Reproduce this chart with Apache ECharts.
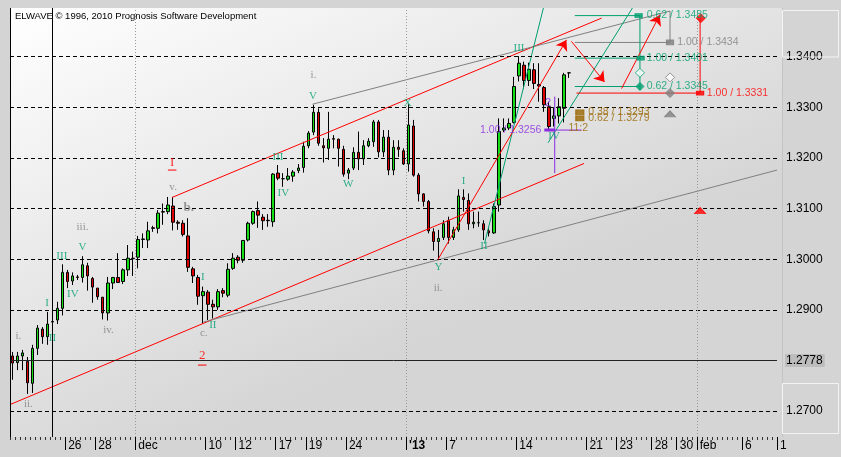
<!DOCTYPE html>
<html><head><meta charset="utf-8">
<script src="https://cdn.jsdelivr.net/npm/echarts@6.0.0/dist/echarts.min.js"></script>
<style>
html,body{margin:0;padding:0;background:#d4d4d4;overflow:hidden}
#chart{width:841px;height:457px}
</style></head><body><div id="chart"></div>
<script>
// ---------- DATA ----------
const NCAT = 153;               // candle slots on the time axis (8h bars)
const Y_MIN = 1.2649, Y_MAX = 1.3496;
const yTicks = [1.27, 1.28, 1.29, 1.30, 1.31, 1.32, 1.33, 1.34];
const lastPrice = 1.2778;
const dateLabels = {11:'26',17:'28',25:'dec',39:'10',45:'12',53:'17',59:'19',67:'24',79:"'13",
  87:'7',101:'14',115:'21',121:'23',128:'28',133:'30',137:'feb',146:'6',153:'1'};
// [open, close, low, high]
const ohlc = [
[1.2809,1.2795,1.2762,1.2817],[1.2796,1.2809,1.2781,1.2817],[1.2809,1.2815,1.2781,1.2821],[1.2798,1.2756,1.2734,1.2807],[1.2755,1.2824,1.2736,1.2831],
[1.2824,1.2864,1.2811,1.2870],[1.2862,1.2847,1.2833,1.2866],[1.2847,1.2872,1.2831,1.2896],[1.2876,1.2877,1.2858,1.2886],[1.2880,1.2903,1.2872,1.2916],
[1.2903,1.2974,1.2889,1.2990],[1.2974,1.2956,1.2943,1.2979],[1.2957,1.2967,1.2949,1.2974],[1.2965,1.2964,1.2959,1.2969],[1.2964,1.2989,1.2954,1.3006],
[1.2987,1.2967,1.2938,1.2993],[1.2962,1.2945,1.2914,1.2965],[1.2943,1.2926,1.2920,1.2943],[1.2925,1.2894,1.2881,1.2925],[1.2894,1.2953,1.2879,1.2965],
[1.2953,1.2964,1.2941,1.2965],[1.2964,1.2954,1.2953,1.3012],[1.2956,1.2979,1.2951,1.2982],[1.2979,1.3002,1.2967,1.3028],[1.3001,1.3002,1.2967,1.3015],
[1.3004,1.3039,1.2982,1.3046],[1.3039,1.3040,1.3022,1.3051],[1.3038,1.3056,1.3022,1.3074],[1.3062,1.3061,1.3054,1.3066],[1.3061,1.3091,1.3051,1.3097],
[1.3094,1.3093,1.3068,1.3110],[1.3094,1.3107,1.3089,1.3123],[1.3105,1.3073,1.3057,1.3123],[1.3073,1.3071,1.3058,1.3077],[1.3071,1.3049,1.3045,1.3077],
[1.3046,1.2984,1.2975,1.3081],[1.2981,1.2967,1.2953,1.2985],[1.2964,1.2927,1.2910,1.2969],[1.2928,1.2936,1.2873,1.2946],[1.2935,1.2911,1.2880,1.2939],
[1.2911,1.2906,1.2883,1.2920],[1.2906,1.2936,1.2900,1.2941],[1.2938,1.2933,1.2925,1.2943],[1.2929,1.2980,1.2925,1.2992],[1.2982,1.3002,1.2979,1.3012],
[1.3004,1.2998,1.2992,1.3008],[1.2998,1.3037,1.2993,1.3038],[1.3038,1.3071,1.3035,1.3074],[1.3071,1.3094,1.3068,1.3096],[1.3096,1.3087,1.3062,1.3114],
[1.3083,1.3076,1.3058,1.3089],[1.3077,1.3076,1.3064,1.3089],[1.3074,1.3168,1.3064,1.3170],[1.3170,1.3160,1.3156,1.3186],[1.3159,1.3159,1.3143,1.3170],
[1.3158,1.3164,1.3155,1.3180],[1.3164,1.3172,1.3153,1.3176],[1.3175,1.3180,1.3170,1.3188],[1.3181,1.3223,1.3171,1.3232],[1.3224,1.3249,1.3219,1.3253],
[1.3251,1.3290,1.3245,1.3305],[1.3290,1.3229,1.3224,1.3298],[1.3224,1.3220,1.3191,1.3239],[1.3219,1.3237,1.3196,1.3291],[1.3238,1.3237,1.3219,1.3245],
[1.3237,1.3219,1.3183,1.3238],[1.3217,1.3168,1.3163,1.3224],[1.3170,1.3176,1.3158,1.3180],[1.3180,1.3211,1.3176,1.3221],[1.3211,1.3198,1.3176,1.3252],
[1.3198,1.3224,1.3186,1.3235],[1.3224,1.3233,1.3221,1.3239],[1.3232,1.3271,1.3222,1.3275],[1.3271,1.3212,1.3201,1.3275],[1.3212,1.3241,1.3202,1.3255],
[1.3241,1.3176,1.3166,1.3255],[1.3176,1.3221,1.3166,1.3235],[1.3221,1.3217,1.3202,1.3235],[1.3214,1.3188,1.3186,1.3219],[1.3188,1.3265,1.3173,1.3306],
[1.3263,1.3166,1.3163,1.3275],[1.3166,1.3129,1.3114,1.3170],[1.3129,1.3114,1.3104,1.3130],[1.3114,1.3056,1.3051,1.3117],[1.3054,1.3035,1.3017,1.3061],
[1.3035,1.3041,1.3002,1.3058],[1.3043,1.3070,1.3038,1.3077],[1.3076,1.3043,1.3031,1.3084],[1.3043,1.3058,1.3038,1.3064],[1.3058,1.3125,1.3054,1.3138],
[1.3122,1.3118,1.3094,1.3138],[1.3116,1.3070,1.3058,1.3130],[1.3070,1.3073,1.3061,1.3094],[1.3072,1.3072,1.3064,1.3094],[1.3070,1.3058,1.3038,1.3077],
[1.3056,1.3052,1.3045,1.3064],[1.3052,1.3104,1.3050,1.3110],[1.3107,1.3252,1.3094,1.3278],[1.3255,1.3259,1.3251,1.3278],[1.3259,1.3268,1.3255,1.3278],
[1.3270,1.3341,1.3268,1.3360],[1.3362,1.3387,1.3351,1.3401],[1.3383,1.3353,1.3337,1.3390],[1.3353,1.3375,1.3342,1.3388],[1.3374,1.3347,1.3336,1.3387],
[1.3345,1.3342,1.3311,1.3387],[1.3339,1.3305,1.3291,1.3342],[1.3301,1.3262,1.3255,1.3311],[1.3278,1.3283,1.3262,1.3300],[1.3283,1.3301,1.3268,1.3318],
[1.3298,1.3364,1.3270,1.3368],[1.3368,1.3368,1.3358,1.3368]
];
// vertical markers (bar index units)
const cursorBar = 7.92;
const monthStarts = [24.5, 78.5, 136.5];
// channel / projection lines: [barIndex, price]
const redChannelLow  = [[-0.5,1.2713],[114.0,1.3189]];
const redChannelUp   = [[31.84,1.3122],[117.5,1.3476]];
const grayChannelLow = [[38.1,1.2876],[152.5,1.3176]];
const grayChannelUp  = [[59.84,1.3306],[131.16,1.3490],[131.16,1.3428],[112.16,1.3428]];
const greenFan1 = [[94.16,1.3031],[105.9,1.3496]];
const greenFan2 = [[106.84,1.3230],[123.66,1.3496]];
const greenTargetPrices = [1.3481, 1.3397, 1.3341];
const greenTargetSpan = [112.16, 125.16];
const greenStem = [[125.16,1.3481],[125.16,1.3334]];
const redTarget = [[112.5,1.3328],[137.16,1.3328]];
const redStem = [[137.16,1.3476],[137.16,1.3328]];
const purpleStem = [[108.16,1.3321],[108.16,1.3170]];
const purpleLevel = [[106.1,1.3255],[113.5,1.3255]];
const purpleBar = [[106.1,1.3255],[108.16,1.3255]];
const redUnder1 = [[31.0,1.3176],[32.7,1.3176]];
const redUnder2 = [[37.0,1.2791],[38.7,1.2791]];
const arrows = [
  [[84.84,1.2999],[110.5,1.3433]],
  [[111.5,1.3430],[118.1,1.3350]],
  [[121.5,1.3337],[129.1,1.3482]]
];
// markers
const greenSquares = [[124.9,1.3481],[125.3,1.3397]];
const greenDiamonds = [[125.16,1.3341]];
const greenHollowDiamonds = [[125.16,1.3368]];
const redDiamonds = [[137.3,1.3476]];
const redSquares = [[137.16,1.3328]];
const graySquares = [[131.16,1.3428]];
const grayHollowDiamonds = [[131.16,1.3359]];
const grayDiamonds = [[131.16,1.3328]];
const grayTriangles = [[131.16,1.3287]];
const redTriangles = [[137.16,1.3096]];
const brownSquares = [[113.16,1.3290],[113.16,1.3278]];
// wave labels: [text, barIndex, price]
const greenWaves = [
 ['I',6.9,1.2914],['II',7.96,1.2845],['III',9.84,1.3006],['IV',12.04,1.2931],['V',13.96,1.3023],
 ['I',37.96,1.2964],['II',39.96,1.2870],['III',52.96,1.3202],['IV',54.04,1.3131],['V',59.96,1.3322],
 ['W',66.96,1.3149],['X',78.84,1.3308],['Y',84.96,1.2985],['I',89.96,1.3155],['II',94.04,1.3025],
 ['III',101.04,1.3416],['IV',108.04,1.3243]
];
const grayWaves = [
 ['i.',1.16,1.2849],['ii.',3.16,1.2714],['iii.',13.96,1.3063],['iv.',19.16,1.2860],['v.',32.04,1.3143],
 ['c.',38.16,1.2854],['i.',60.04,1.3364],['ii.',84.9,1.2943]
];
const grayBold = [['b.',35.16,1.3102]];
const redWaves = [['I',31.84,1.3191],['2',37.84,1.2809]];
const purpleWaves = [['2',106.84,1.3309]];
// level texts (left anchored)
const greenTexts = [['0.62 / 1.3485',126.5,1.3481],['1.00 / 1.3401',126.5,1.3397],['0.62 / 1.3345',126.5,1.3341]];
const grayTexts = [['1.00 / 1.3434',132.6,1.3428]];
const redTexts = [['1.00 / 1.3331',138.5,1.3328]];
const brownTexts = [['0.38 / 1.3293',114.84,1.3290],['0.62 / 1.3279',114.84,1.3278],['11:2',110.9,1.3259]];
const purpleTexts = [['1.00 / 1.3256',105.5,1.3255]];

// ---------- CHART ----------
const SANS = '"Liberation Sans", Arial, sans-serif';
const SERIF = '"Liberation Serif", "DejaVu Serif", serif';
const GREEN = '#00a070', GRAY = '#808080', RED = '#ff0000', PURPLE = '#8a2be2', BROWN = '#9a6700';
const chart = echarts.init(document.getElementById('chart'));
const catData = Array.from({length: NCAT}, (_, i) => String(i));
const tickData = Array.from({length: NCAT + 1}, (_, k) => dateLabels[k] || '');

function seg(data, color, width, z) {
  return {type:'line', xAxisIndex:2, yAxisIndex:0, data, symbol:'none', silent:true,
    lineStyle:{color, width: width || 1}, z: z || 4};
}
function marks(data, symbol, size, fill, stroke) {
  return {type:'scatter', xAxisIndex:2, yAxisIndex:0, data, symbol, symbolSize:size, silent:true,
    itemStyle:{color:fill, borderColor:stroke || fill, borderWidth:1}, z:8};
}
function texts(items, color, font, size, pos, extra) {
  return {type:'scatter', xAxisIndex:2, yAxisIndex:0, silent:true, symbolSize:0, z:9,
    data: items.map(([t, x, y]) => ({name:t, value:[x, y]})),
    label: Object.assign({show:true, formatter:'{b}', color, fontFamily:font, fontSize:size,
      position: pos === 'c' ? 'inside' : [0, 0],
      align: pos === 'c' ? 'center' : pos, verticalAlign:'middle'}, extra || {})};
}

const series = [
  {type:'line', xAxisIndex:2, yAxisIndex:0, data:[], silent:true, z:1,
   markLine:{symbol:'none', silent:true, animation:false,
     data: [
       ...yTicks.map(v => ({yAxis:v, lineStyle:{color:'#000', type:[4,3], width:1}, label:{show:false}})),
       ...monthStarts.map(v => ({xAxis:v, lineStyle:{color:'#999', type:[1,2], width:1}, label:{show:false}})),
       {xAxis:cursorBar, lineStyle:{color:'#000', type:'solid', width:1}, label:{show:false}},
       {yAxis:lastPrice, lineStyle:{color:'#222', type:'solid', width:1},
        label:{show:true, position:'end', distance:8, formatter:'1.2778', color:'#000', fontFamily:SANS, fontSize:12,
               backgroundColor:'#bdbdbd', padding:[1,2,0,1]}}
     ]}},
  {type:'candlestick', xAxisIndex:0, yAxisIndex:0, data:ohlc, barWidth:3, z:3, silent:true,
   itemStyle:{color:'#16dd16', color0:'#dd0000', borderColor:'#000', borderColor0:'#000', borderWidth:1}},
  seg(redChannelLow, RED), seg(redChannelUp, RED),
  seg(grayChannelLow, GRAY), seg(grayChannelUp, GRAY),
  seg(greenFan1, GREEN), seg(greenFan2, GREEN),
  ...greenTargetPrices.map(p => seg([[greenTargetSpan[0], p],[greenTargetSpan[1], p]], GREEN)),
  seg(greenStem, GREEN), seg(redTarget, RED), seg(redStem, RED),
  seg(purpleStem, PURPLE), seg(purpleLevel, PURPLE), seg(purpleBar, PURPLE, 3),
  seg(redUnder1, RED), seg(redUnder2, RED),
  {type:'line', xAxisIndex:2, yAxisIndex:0, data:[], silent:true, z:6,
   markLine:{symbol:['none','arrow'], symbolSize:10, silent:true, animation:false,
     lineStyle:{color:RED, width:1, type:'solid'}, label:{show:false},
     data: arrows.map(([a, b]) => [{coord:a}, {coord:b}])}},
  marks(greenSquares, 'rect', [7,4], GREEN),
  marks(greenDiamonds, 'diamond', 8, GREEN),
  marks(greenHollowDiamonds, 'diamond', 9, '#fff', GREEN),
  marks(redDiamonds, 'diamond', 9, RED),
  marks(redSquares, 'rect', [7,4], RED),
  marks(graySquares, 'rect', [7,5], GRAY),
  marks(grayHollowDiamonds, 'diamond', 9, '#fff', GRAY),
  marks(grayDiamonds, 'diamond', 9, GRAY),
  marks(grayTriangles, 'triangle', [11,6], GRAY),
  marks(redTriangles, 'triangle', [11,6], RED),
  marks(brownSquares, 'rect', [8,5], BROWN),
  texts(greenWaves, GREEN, SERIF, 11, 'c'),
  texts(grayWaves, GRAY, SERIF, 11, 'c'),
  texts(grayBold, GRAY, SERIF, 13, 'c', {fontWeight:'bold'}),
  texts(redWaves, RED, SERIF, 13, 'c'),
  texts(purpleWaves, PURPLE, SANS, 11, 'c'),
  texts(greenTexts, GREEN, SANS, 10.5, 'left'),
  texts(grayTexts, GRAY, SANS, 10.5, 'left'),
  texts(redTexts, RED, SANS, 10.5, 'left'),
  texts(brownTexts, BROWN, SANS, 10.5, 'left'),
  texts(purpleTexts, PURPLE, SANS, 10.5, 'right')
];

const option = {
  animation:false,
  backgroundColor:'#d4d4d4',
  grid:{left:10, top:8, width:767, height:429},
  xAxis:[
    {type:'category', data:catData, boundaryGap:true, axisLine:{show:false},
     axisTick:{show:true, interval:0, length:3, lineStyle:{color:'#333'}},
     axisLabel:{show:false}, splitLine:{show:false}},
    {type:'category', data:tickData, boundaryGap:false, position:'bottom', axisLine:{show:false},
     axisTick:{show:true, interval:(i) => !!dateLabels[i], length:13, lineStyle:{color:'#000'}},
     axisLabel:{show:true, interval:(i) => !!dateLabels[i], align:'left', margin:3, padding:[0,0,0,3],
       color:'#000', fontSize:12, fontFamily:SANS,
       formatter:(v) => v === "'13" ? "{b|'13}" : v,
       rich:{b:{fontWeight:'bold', fontSize:12, fontFamily:SANS, color:'#000'}}},
     splitLine:{show:false}},
    {type:'value', min:-0.5, max:NCAT - 0.5, show:false}
  ],
  yAxis:{type:'value', position:'right', min:Y_MIN, max:Y_MAX, splitLine:{show:false},
    axisLine:{show:false}, axisTick:{show:false},
    axisLabel:{customValues:yTicks, formatter:(v) => v.toFixed(4), margin:9, color:'#000', fontSize:12, fontFamily:SANS}},
  graphic:[
    {type:'rect', z:-10, silent:true, shape:{x:10, y:8, width:772, height:429},
     style:{fill:new echarts.graphic.LinearGradient(0,0,0.25,1,[{offset:0,color:'#ffffff'},{offset:1,color:'#d5d5d5'}])}},
    {type:'line', z:50, silent:true, shape:{x1:10.5, y1:8, x2:10.5, y2:437}, style:{stroke:'#000', lineWidth:1}},
    {type:'line', z:50, silent:true, shape:{x1:782.5, y1:8, x2:782.5, y2:437}, style:{stroke:'#c4c4c4', lineWidth:1}},
    {type:'rect', z:50, silent:true, shape:{x:782.5, y:10.5, width:56, height:46.5}, style:{fill:null, stroke:'#f4f4f4', lineWidth:1}},
    {type:'rect', z:50, silent:true, shape:{x:782.5, y:383.5, width:56, height:50}, style:{fill:null, stroke:'#f4f4f4', lineWidth:1}},
    {type:'text', z:60, silent:true, style:{x:15, y:16, text:'ELWAVE © 1996, 2010 Prognosis Software Development',
      fill:'#000', font:'9.5px "Liberation Sans", Arial, sans-serif', textVerticalAlign:'middle'}}
  ],
  series
};
chart.setOption(option);
</script></body></html>
